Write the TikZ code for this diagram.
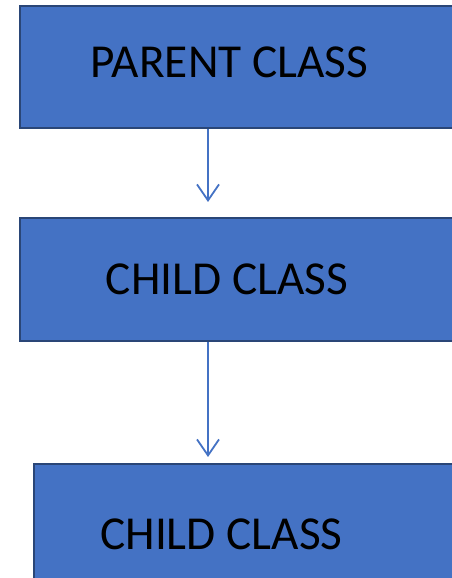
\documentclass[tikz,border=0pt]{standalone}
\usepackage{fontspec}
\setmainfont{Carlito}
\usetikzlibrary{arrows.meta}
\definecolor{boxfill}{HTML}{4472C4}
\definecolor{boxline}{HTML}{2A4677}
\begin{document}
\begin{tikzpicture}[x=1pt,y=1pt,
  box/.style={draw=boxline, line width=2pt, fill=boxfill, inner sep=0pt, anchor=north west},
  caption/.style={font=\fontsize{47.3}{54}\selectfont, anchor=base, text=black, inner sep=0pt},
  link/.style={draw=boxfill, line width=1.8pt, -{Straight Barb[length=16pt,width=22pt,line width=1.8pt]}}]
\useasboundingbox (0,0) rectangle (452,578);
\clip (0,0) rectangle (452,578);
% class boxes (they run past the right edge)
\node[box, minimum width=460pt, minimum height=122pt] (parent) at (19,573) {};
\node[box, minimum width=460pt, minimum height=123pt] (child) at (19,361) {};
\node[box, minimum width=460pt, minimum height=140pt] (grandchild) at (33,115) {};
% labels
\node[caption] (tparent) at (229.5,500) {PARENT CLASS};
\node[caption] (tchild) at (227,283) {CHILD CLASS};
\node[caption] (tgrandchild) at (221.5,28) {CHILD CLASS};
% inheritance arrows
\coordinate (ax) at (208,0);
\draw[link] (ax |- parent.south) -- ([yshift=15pt]ax |- child.north);
\draw[link] (ax |- child.south) -- ([yshift=6pt]ax |- grandchild.north);
\end{tikzpicture}
\end{document}
